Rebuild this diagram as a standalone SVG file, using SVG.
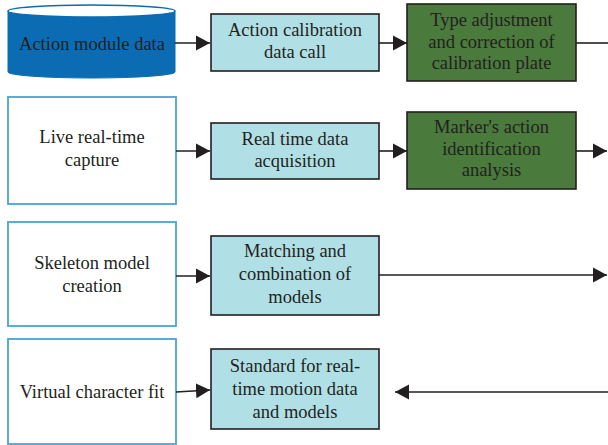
<svg xmlns="http://www.w3.org/2000/svg" width="608" height="445" viewBox="0 0 608 445">
<defs>
<style>
text{font-family:"Liberation Serif","Times New Roman",serif;font-size:18.5px;fill:#231f20;text-anchor:middle}
.src{fill:#ffffff;stroke:#4aa3d3;stroke-width:1.8}
.blue{fill:#b0e0e6;stroke:#231f20;stroke-width:1.6}
.green{fill:#4a7a3c;stroke:#231f20;stroke-width:1.6}
.ln{stroke:#231f20;stroke-width:1.6;fill:none}
</style>
<marker id="ah" markerUnits="userSpaceOnUse" markerWidth="15" markerHeight="16" refX="14" refY="8" orient="auto">
<path d="M0,0.5 L14,8 L0,15.5 Z" fill="#231f20"/>
</marker>
</defs>
<g id="n-action-module-data">
<path d="M8,11 L8,72 A83.5,6 0 0 0 175,72 L175,11 Z" fill="#0b6cb3" stroke="#0b6cb3" stroke-width="1"/>
<ellipse cx="91.5" cy="11" rx="83.5" ry="6" fill="#ffffff" stroke="#0b6cb3" stroke-width="1.5"/>
<text x="92" y="50">Action module data</text>
</g>
<g id="n-action-calibration">
<rect class="blue" x="211" y="14" width="168" height="57"/>
<text x="295" y="36">Action calibration</text>
<text x="295" y="58">data call</text>
</g>
<g id="n-type-adjustment">
<rect class="green" x="407" y="4" width="169" height="77"/>
<text x="491.5" y="26">Type adjustment</text>
<text x="491.5" y="48">and correction of</text>
<text x="491.5" y="69">calibration plate</text>
</g>
<g id="n-live-capture">
<rect class="src" x="8" y="97" width="168" height="107"/>
<text x="92" y="143">Live real-time</text>
<text x="92" y="166">capture</text>
</g>
<g id="n-real-time-acquisition">
<rect class="blue" x="211" y="123" width="168" height="56"/>
<text x="295" y="145">Real time data</text>
<text x="295" y="167">acquisition</text>
</g>
<g id="n-marker-analysis">
<rect class="green" x="407" y="112" width="169" height="77"/>
<text x="491.5" y="133">Marker's action</text>
<text x="491.5" y="155">identification</text>
<text x="491.5" y="176">analysis</text>
</g>
<g id="n-skeleton">
<rect class="src" x="8" y="222" width="168" height="104"/>
<text x="92" y="269">Skeleton model</text>
<text x="92" y="292">creation</text>
</g>
<g id="n-matching">
<rect class="blue" x="211" y="236" width="168" height="79"/>
<text x="295" y="257">Matching and</text>
<text x="295" y="280">combination of</text>
<text x="295" y="303">models</text>
</g>
<g id="n-virtual">
<rect class="src" x="8" y="339" width="168" height="105"/>
<text x="92" y="398">Virtual character fit</text>
</g>
<g id="n-standard">
<rect class="blue" x="211" y="349" width="168" height="80"/>
<text x="295" y="372">Standard for real-</text>
<text x="295" y="395">time motion data</text>
<text x="295" y="418">and models</text>
</g>
<g id="connectors">
<line class="ln" x1="175" y1="43" x2="210" y2="43" marker-end="url(#ah)"/>
<line class="ln" x1="379" y1="43" x2="407" y2="43" marker-end="url(#ah)"/>
<line class="ln" x1="576" y1="43" x2="608" y2="43"/>
<line class="ln" x1="176" y1="151" x2="210" y2="151" marker-end="url(#ah)"/>
<line class="ln" x1="379" y1="151" x2="407" y2="151" marker-end="url(#ah)"/>
<line class="ln" x1="576" y1="151" x2="607" y2="151" marker-end="url(#ah)"/>
<line class="ln" x1="176" y1="276" x2="210" y2="276" marker-end="url(#ah)"/>
<line class="ln" x1="379" y1="275" x2="607" y2="275" marker-end="url(#ah)"/>
<line class="ln" x1="176" y1="392" x2="210" y2="390" marker-end="url(#ah)"/>
<line class="ln" x1="608" y1="392" x2="395" y2="392" marker-end="url(#ah)"/>
</g>
</svg>
